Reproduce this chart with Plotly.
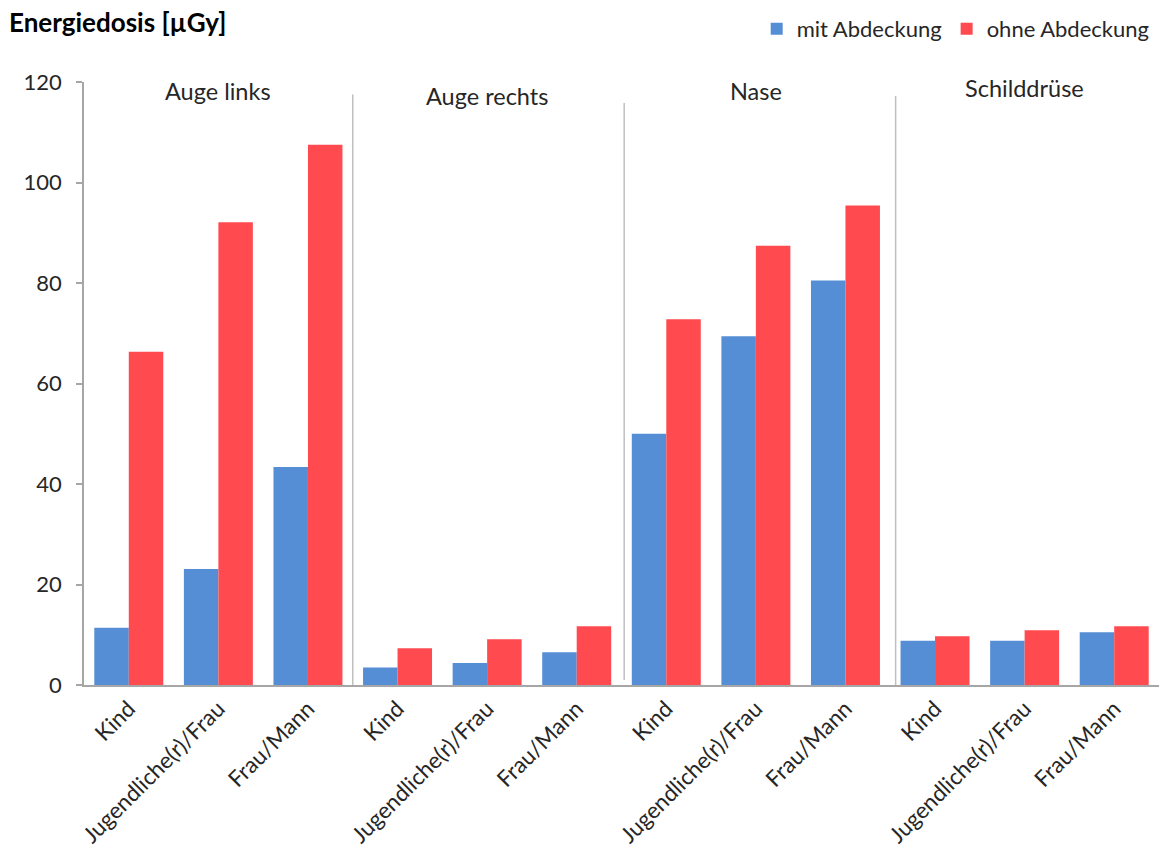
import plotly.graph_objects as go

# Organ regions and patient groups
regions = ["Auge links", "Auge rechts", "Nase", "Schilddrüse"]
persons = ["Kind", "Jugendliche(r)/Frau", "Frau/Mann"]

# Absorbed dose in µGy, per region (Kind, Jugendliche(r)/Frau, Frau/Mann)
mit_abdeckung = {
    "Auge links": [11.4, 23.1, 43.4],
    "Auge rechts": [3.5, 4.4, 6.5],
    "Nase": [50.0, 69.4, 80.5],
    "Schilddrüse": [8.8, 8.8, 10.5],
}
ohne_abdeckung = {
    "Auge links": [66.3, 92.1, 107.5],
    "Auge rechts": [7.3, 9.1, 11.7],
    "Nase": [72.8, 87.4, 95.4],
    "Schilddrüse": [9.7, 10.9, 11.7],
}

y_ticks = [0, 20, 40, 60, 80, 100, 120]

BLUE = "#558ED5"
RED = "#FF4A4F"
FONT = "Lato"
TEXT = "#262626"

n = len(persons)
xs = list(range(len(regions) * n))
tick_text = [p for _ in regions for p in persons]
blue_vals = [v for r in regions for v in mit_abdeckung[r]]
red_vals = [v for r in regions for v in ohne_abdeckung[r]]

fig = go.Figure()
fig.add_trace(go.Bar(x=xs, y=blue_vals, name="mit Abdeckung",
                     marker=dict(color=BLUE, line=dict(width=0))))
fig.add_trace(go.Bar(x=xs, y=red_vals, name="ohne Abdeckung",
                     marker=dict(color=RED, line=dict(width=0))))

# Vertical separators between regions
sep_x = [2.5, 5.53, 8.56]
sep_top = [117.5, 115.8, 117.2]
sep_bot = [-0.6, 1.0, -0.4]
for sx, top, bot in zip(sep_x, sep_top, sep_bot):
    fig.add_shape(type="line", xref="x", yref="y", x0=sx, x1=sx, y0=bot, y1=top,
                  line=dict(color="#BFBFBF", width=1.5))

# Region names above each group
label_y = [118.3, 117.2, 118.2, 118.9]
for i, (r, ly) in enumerate(zip(regions, label_y)):
    fig.add_annotation(x=i * n + 1, y=ly, xref="x", yref="y", text=r,
                       showarrow=False, font=dict(family=FONT, size=23.5, color=TEXT),
                       xanchor="center", yanchor="middle")

# Axis title in the top-left corner
fig.add_annotation(x=-0.072, y=1.1, xref="paper", yref="paper",
                   text="<b>Energiedosis [µGy]</b>", showarrow=False,
                   font=dict(family=FONT, size=26, color="#000000"),
                   xanchor="left", yanchor="middle")

fig.update_layout(
    width=1161, height=857,
    margin=dict(l=84, r=2, t=82, b=172),
    paper_bgcolor="white", plot_bgcolor="white",
    barmode="group", bargap=0.23, bargroupgap=0,
    font=dict(family=FONT, size=19, color=TEXT),
    showlegend=True,
    legend=dict(orientation="h", x=0.996, xanchor="right", y=1.088, yanchor="middle",
                font=dict(family=FONT, size=22, color=TEXT),
                itemwidth=30, itemsizing="constant", traceorder="normal",
                bgcolor="rgba(0,0,0,0)"),
)

fig.update_xaxes(
    range=[-0.5, len(xs) - 0.5],
    tickmode="array", tickvals=xs, ticktext=tick_text, tickangle=-45,
    showline=True, linecolor="#A6A6A6", linewidth=1.5,
    ticks="", showgrid=False, zeroline=False,
    tickfont=dict(family=FONT, size=22.5, color=TEXT),
)
fig.update_yaxes(
    range=[0, 120], tickmode="array", tickvals=y_ticks,
    showline=True, linecolor="#A6A6A6", linewidth=1.5,
    ticks="outside", ticklen=6, tickcolor="#A6A6A6", tickwidth=1.5,
    ticklabelstandoff=10,
    showgrid=False, zeroline=False,
    tickfont=dict(family=FONT, size=22, color=TEXT),
)

fig.write_html("out.html")
